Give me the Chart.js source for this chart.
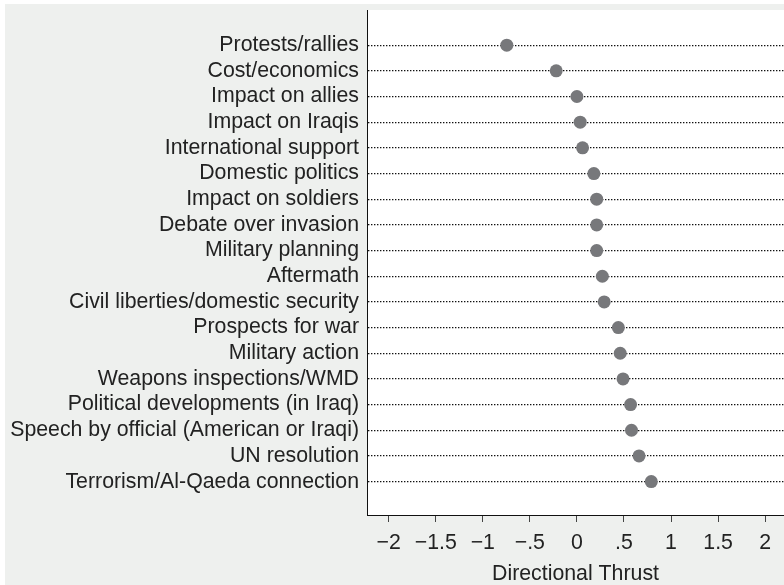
<!DOCTYPE html>
<html>
<head>
<meta charset="utf-8">
<script src="https://cdn.jsdelivr.net/npm/chart.js@4/dist/chart.umd.min.js"></script>
<style>
  body { margin: 0; background: #fff; }
  canvas { display: block; }
</style>
</head>
<body>
<canvas id="mycanvas" width="784" height="585"></canvas>
<script>
var topics = [
  'Protests/rallies',
  'Cost/economics',
  'Impact on allies',
  'Impact on Iraqis',
  'International support',
  'Domestic politics',
  'Impact on soldiers',
  'Debate over invasion',
  'Military planning',
  'Aftermath',
  'Civil liberties/domestic security',
  'Prospects for war',
  'Military action',
  'Weapons inspections/WMD',
  'Political developments (in Iraq)',
  'Speech by official (American or Iraqi)',
  'UN resolution',
  'Terrorism/Al-Qaeda connection'
];
var thrust = [-0.745, -0.22, 0.0, 0.035, 0.06, 0.18, 0.21, 0.21, 0.21, 0.27, 0.29, 0.44, 0.46, 0.49, 0.57, 0.58, 0.66, 0.79];
var xTicks = [-2, -1.5, -1, -0.5, 0, 0.5, 1, 1.5, 2];
var xTickLabels = ['\u22122', '\u22121.5', '\u22121', '\u2212.5', '0', '.5', '1', '1.5', '2'];

var points = [];
for (var i in topics) {
  points.push({x: thrust[i], y: Number(i)});
}

var bg = {
  id: 'bg',
  beforeDraw: function(chart) {
    var c = chart.ctx, a = chart.chartArea;
    c.save();
    c.fillStyle = '#ffffff';
    c.fillRect(0, 0, chart.width, chart.height);
    c.fillStyle = '#eef0ee';
    c.fillRect(5, 4, chart.width - 5, chart.height - 4);
    c.fillStyle = '#ffffff';
    c.fillRect(a.left, a.top, a.right - a.left, a.bottom - a.top);
    c.restore();
  }
};

var font = {family: '"Liberation Sans", Arial, sans-serif', size: 21.3};

var ctx = document.getElementById('mycanvas');
var dotChart = new Chart(ctx, {
  type: 'scatter',
  data: {
    datasets: [{
      data: points,
      backgroundColor: '#77787b',
      borderWidth: 0,
      pointRadius: 6.5,
      pointHoverRadius: 6.5
    }]
  },
  options: {
    responsive: false,
    animation: false,
    layout: {autoPadding: false, padding: {top: 10, left: 0, right: 0, bottom: 0}},
    plugins: {legend: {display: false}, tooltip: {enabled: false}},
    scales: {
      x: {
        type: 'linear',
        min: -2.23,
        max: 2.2,
        afterBuildTicks: function(s) {
          s.ticks = xTicks.map(function(v) { return {value: v}; });
        },
        afterFit: function(s) {
          s.height = 70;
          s.paddingLeft = 0;
          s.paddingRight = 0;
        },
        ticks: {
          font: font,
          color: '#222',
          padding: 8,
          maxRotation: 0,
          callback: function(v) {
            var k = xTicks.indexOf(v);
            return k >= 0 ? xTickLabels[k] : '';
          }
        },
        grid: {drawOnChartArea: false, drawTicks: true, tickLength: 7, color: '#444'},
        border: {display: true, color: '#111', width: 1},
        title: {
          display: true,
          text: 'Directional Thrust',
          font: {family: font.family, size: font.size, lineHeight: 1.0},
          color: '#222',
          padding: {top: 0, bottom: 0}
        }
      },
      y: {
        type: 'linear',
        reverse: true,
        min: -1.37,
        max: 18.3,
        afterBuildTicks: function(s) {
          s.ticks = topics.map(function(t, k) { return {value: k}; });
        },
        afterFit: function(s) {
          s.width = 367;
          s.paddingTop = 0;
          s.paddingBottom = 0;
        },
        ticks: {
          font: font,
          color: '#222',
          padding: 8,
          autoSkip: false,
          callback: function(v) {
            return topics[v] !== undefined ? topics[v] : '';
          }
        },
        grid: {drawTicks: false, color: '#111', lineWidth: 1.3},
        border: {display: true, color: '#111', width: 1, dash: [1.4, 1.6]}
      }
    }
  },
  plugins: [bg]
});
</script>
</body>
</html>
